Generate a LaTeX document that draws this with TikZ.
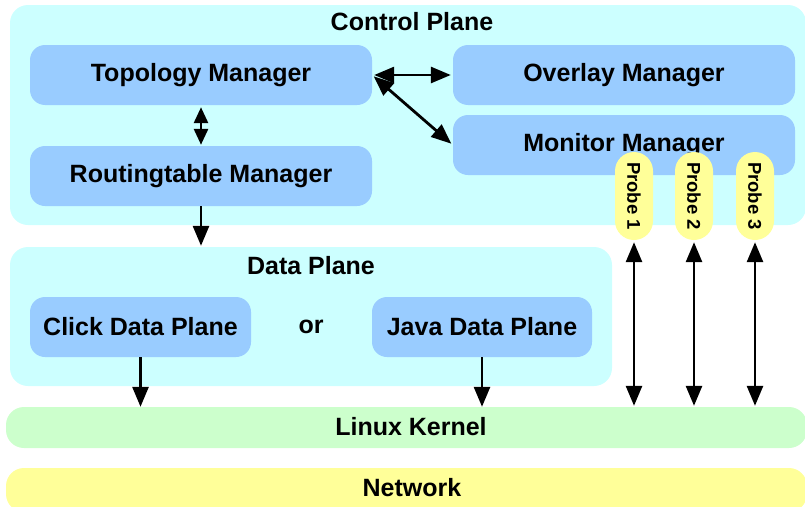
\documentclass[tikz,border=0pt]{standalone}
\usepackage{fontspec}
\setmainfont{Liberation Sans}
\usepackage{graphicx}
\usetikzlibrary{arrows.meta}

\definecolor{planefill}{HTML}{CCFFFF}
\definecolor{mgrfill}{HTML}{99CCFF}
\definecolor{kernelfill}{HTML}{CCFFCC}
\definecolor{netfill}{HTML}{FFFF99}

\tikzset{
  plane/.style={draw=none, fill=planefill, rounded corners=18pt, inner sep=0pt},
  mgr/.style={draw=none, fill=mgrfill, rounded corners=15pt, minimum height=60pt,
              inner sep=0pt, font=\fontsize{25}{29}\selectfont\bfseries},
  band/.style={draw=none, rounded corners=18pt, inner sep=0pt},
  title/.style={font=\fontsize{25}{29}\selectfont\bfseries, inner sep=0pt},
  probe/.style={draw=none, fill=netfill, rounded corners=19pt, minimum width=38pt,
                minimum height=88pt, inner sep=0pt, font=\fontsize{18.5}{20}\selectfont\bfseries},
  arrowline/.style={line width=2.8pt, >={Triangle[length=20pt,width=16pt]}},
  shortarrow/.style={>={Triangle[length=16pt,width=14pt]}},
  link/.style={arrowline, ->},
  dlink/.style={arrowline, <->},
}

\begin{document}
\begin{tikzpicture}[x=1pt, y=-1pt]
  \useasboundingbox (0,0) rectangle (805,506);
  \clip (0,0) rectangle (805,506);

  % control plane
  \node[plane, minimum width=796pt, minimum height=220pt] (cp) at (408,115) {};
  \node[title] (cptitle) at (412,22) {Control Plane};
  \node[mgr, minimum width=342pt] (topo) at (201,75) {Topology Manager};
  \node[mgr, minimum width=342pt] (overlay) at (624,75) {Overlay Manager};
  \node[mgr, minimum width=342pt] (monitor) at (624,145) {Monitor Manager};
  \node[mgr, minimum width=342pt] (routing) at (201,176) {Routingtable Manager};

  % data plane
  \node[plane, minimum width=602pt, minimum height=139pt] (dp) at (311,316.5) {};
  \node[title] (dptitle) at (311,266) {Data Plane};
  \node[mgr, minimum width=221pt] (click) at (140.5,327) {Click Data Plane};
  \node[title] (or) at (311,327) {or};
  \node[mgr, minimum width=220pt] (java) at (482,327) {Java Data Plane};

  % kernel and network
  \node[band, fill=kernelfill, minimum width=801pt, minimum height=41pt] (kernel) at (406.5,427.5) {};
  \node[title] (kerneltext) at (411,427) {Linux Kernel};
  \node[band, fill=netfill, minimum width=801pt, minimum height=44pt] (net) at (406.5,490) {};
  \node[title] (nettext) at (412,488) {Network};

  % probes
  \node[probe] (p1) at (634,196) {\rotatebox{-90}{Probe 1}};
  \node[probe] (p2) at (694,196) {\rotatebox{-90}{Probe 2}};
  \node[probe] (p3) at (755,196) {\rotatebox{-90}{Probe 3}};

  % connectors
  \draw[dlink, shorten <=2pt, shorten >=2pt] (topo.east) -- (overlay.west);
  \draw[dlink, shorten <=2pt, shorten >=2pt] (topo.east) -- (monitor.west);
  \draw[dlink, shortarrow, shorten <=2pt, shorten >=1pt] (topo.south) -- (routing.north);
  \draw[link, shorten >=1pt] (routing.south) -- (dp.north -| routing.south);
  \draw[link] (click.south) -- (kernel.north -| click.south);
  \draw[link] (java.south) -- (kernel.north -| java.south);
  \foreach \p in {p1,p2,p3}
    \draw[dlink, shorten <=2pt, shorten >=1pt] (\p.south) -- (kernel.north -| \p.south);
\end{tikzpicture}
\end{document}
